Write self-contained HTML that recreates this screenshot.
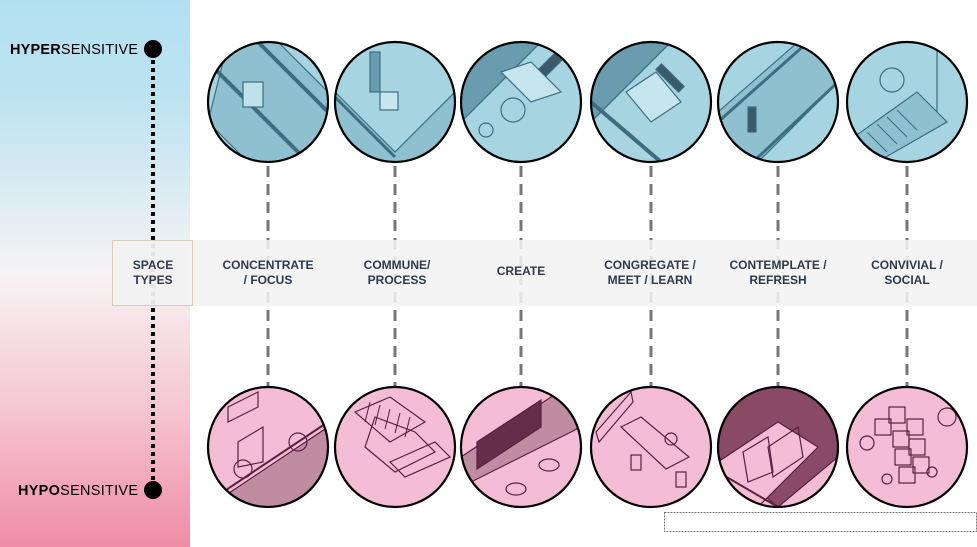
<!DOCTYPE html>
<html><head><meta charset="utf-8"><style>
html,body{margin:0;padding:0;background:#fff}
body{width:977px;height:547px;overflow:hidden;position:relative;font-family:"Liberation Sans",Arial,sans-serif}
</style></head><body>
<svg width="977" height="547" viewBox="0 0 977 547" xmlns="http://www.w3.org/2000/svg" style="position:absolute;left:0;top:0">
<defs>
<linearGradient id="lg" x1="0" y1="0" x2="0" y2="1">
<stop offset="0" stop-color="#b3e0f1"/>
<stop offset="0.18" stop-color="#bde3f1"/>
<stop offset="0.5" stop-color="#f6f3f4"/>
<stop offset="0.75" stop-color="#f5c5d2"/>
<stop offset="1" stop-color="#ef8ca6"/>
</linearGradient>
<clipPath id="c1"><circle cx="0" cy="0" r="60"/></clipPath>
</defs>
<rect x="0" y="0" width="190" height="547" fill="url(#lg)"/>
<line x1="153" y1="52" x2="153" y2="488" stroke="#000" stroke-width="4" stroke-dasharray="4,4"/>
<circle cx="153" cy="49" r="9" fill="#000"/>
<circle cx="153" cy="490" r="9" fill="#000"/>
<text x="10" y="54" font-size="14.5" fill="#000" textLength="128" lengthAdjust="spacing"><tspan font-weight="bold">HYPER</tspan>SENSITIVE</text>
<text x="18" y="495" font-size="14.5" fill="#000" textLength="120" lengthAdjust="spacing"><tspan font-weight="bold">HYPO</tspan>SENSITIVE</text>
<g stroke="#777" stroke-width="3" stroke-dasharray="11,7">
<line x1="268" y1="166" x2="268" y2="386"/>
<line x1="395" y1="166" x2="395" y2="386"/>
<line x1="521" y1="166" x2="521" y2="386"/>
<line x1="651" y1="166" x2="651" y2="386"/>
<line x1="778" y1="166" x2="778" y2="386"/>
<line x1="907" y1="166" x2="907" y2="386"/>
</g>
<rect x="112" y="240" width="865" height="66" fill="#f2f2f2" fill-opacity="0.88"/>
<rect x="112.5" y="240.5" width="80" height="65" fill="#f2f2f2" fill-opacity="0.5" stroke="#d8cfb0" stroke-width="1"/>
<g font-size="12" font-weight="bold" fill="#2e3a4a" text-anchor="middle">
<text x="153" y="269">SPACE</text><text x="153" y="284">TYPES</text>
<text x="268" y="269">CONCENTRATE</text><text x="268" y="284">/ FOCUS</text>
<text x="397" y="269">COMMUNE/</text><text x="397" y="284">PROCESS</text>
<text x="521" y="275">CREATE</text>
<text x="650" y="269">CONGREGATE /</text><text x="650" y="284">MEET / LEARN</text>
<text x="778" y="269">CONTEMPLATE /</text><text x="778" y="284">REFRESH</text>
<text x="907" y="269">CONVIVIAL /</text><text x="907" y="284">SOCIAL</text>
</g>
<g stroke="#3c6e80" stroke-width="1.2" fill="none">
<g transform="translate(268,102)"><circle r="60" fill="#a6d4e1" stroke="none"/><g clip-path="url(#c1)">
<polygon points="-40,-60 10,-60 60,-10 60,60 -20,60 -60,20" fill="#8fc0d0"/><line x1="-60" y1="-40" x2="40" y2="60" stroke-width="4"/><line x1="-10" y1="-60" x2="60" y2="10" stroke-width="4"/><rect x="-25" y="-20" width="20" height="25" fill="#bfe1ea"/></g></g>
<g transform="translate(395,102)"><circle r="60" fill="#a6d4e1" stroke="none"/><g clip-path="url(#c1)">
<polygon points="-60,-10 0,50 60,-10 60,60 -60,60" fill="#8fc0d0"/><line x1="-60" y1="-5" x2="0" y2="55" stroke-width="3"/><rect x="-25" y="-50" width="10" height="40" fill="#6a9cb0"/><rect x="-15" y="-10" width="18" height="18" fill="#c6e5ee"/></g></g>
<g transform="translate(521,102)"><circle r="60" fill="#a6d4e1" stroke="none"/><g clip-path="url(#c1)">
<polygon points="-60,-60 20,-60 -60,20" fill="#6a9cb0"/><rect x="22" y="-50" width="10" height="30" fill="#3a5a6a" transform="rotate(45 27 -35)"/><circle cx="-8" cy="8" r="12"/><polygon points="-20,-30 10,-40 40,-10 10,0" fill="#c6e5ee"/><circle cx="-35" cy="28" r="7"/></g></g>
<g transform="translate(651,102)"><circle r="60" fill="#a6d4e1" stroke="none"/><g clip-path="url(#c1)">
<polygon points="-60,-60 20,-60 -60,20" fill="#6a9cb0"/><rect x="15" y="-40" width="8" height="32" fill="#3a5a6a" transform="rotate(-45 19 -24)"/><polygon points="-25,-10 5,-30 30,0 0,20" fill="#c6e5ee"/><line x1="-60" y1="0" x2="10" y2="60" stroke-width="4"/></g></g>
<g transform="translate(778,102)"><circle r="60" fill="#a6d4e1" stroke="none"/><g clip-path="url(#c1)">
<polygon points="-60,10 20,-60 60,-60 60,-20 -20,60 -60,60" fill="#8fc0d0"/><line x1="-60" y1="20" x2="30" y2="-60" stroke-width="3"/><line x1="-25" y1="60" x2="60" y2="-20" stroke-width="3"/><rect x="-30" y="5" width="8" height="25" fill="#3a5a6a"/></g></g>
<g transform="translate(907,102)"><circle r="60" fill="#a6d4e1" stroke="none"/><g clip-path="url(#c1)">
<circle cx="-15" cy="-22" r="12"/><polygon points="-60,40 10,-10 40,20 -30,60" fill="#8fc0d0"/><g stroke-width="1"><line x1="-40" y1="30" x2="-20" y2="50"/><line x1="-30" y1="22" x2="-10" y2="42"/><line x1="-20" y1="15" x2="0" y2="35"/><line x1="-10" y1="8" x2="10" y2="28"/></g><line x1="30" y1="-60" x2="30" y2="10"/></g></g>
</g>
<g stroke="#000" stroke-width="2.2" fill="none">
<circle cx="268" cy="102" r="60"/><circle cx="395" cy="102" r="60"/><circle cx="521" cy="102" r="60"/><circle cx="651" cy="102" r="60"/><circle cx="778" cy="102" r="60"/><circle cx="907" cy="102" r="60"/>
</g>
<g stroke="#5a2040" stroke-width="1.2" fill="none">
<g transform="translate(268,447)"><circle r="60" fill="#f5bdd5" stroke="none"/><g clip-path="url(#c1)">
<polygon points="-60,60 60,-20 60,60" fill="#c08ca2"/><line x1="-60" y1="55" x2="60" y2="-25" stroke-width="2"/><polygon points="-40,-40 -10,-55 -10,-40 -40,-25"/><polygon points="-30,-5 -5,-20 -5,15 -30,20"/><circle cx="-25" cy="22" r="9"/><circle cx="30" cy="-5" r="9"/></g></g>
<g transform="translate(395,447)"><circle r="60" fill="#f5bdd5" stroke="none"/><g clip-path="url(#c1)">
<polygon points="-20,-30 20,-15 40,5 0,25 -30,0"/><polygon points="-40,-35 -5,-50 30,-25 -5,-5"/><polygon points="-5,15 40,-5 55,10 10,30"/><line x1="-60" y1="40" x2="-20" y2="60" stroke-width="2"/><g stroke-width="1"><line x1="-30" y1="-25" x2="-25" y2="-45"/><line x1="-20" y1="-22" x2="-15" y2="-42"/><line x1="-10" y1="-18" x2="-5" y2="-38"/><line x1="0" y1="-14" x2="5" y2="-34"/><line x1="10" y1="-10" x2="15" y2="-30"/></g></g></g>
<g transform="translate(521,447)"><circle r="60" fill="#f5bdd5" stroke="none"/><g clip-path="url(#c1)">
<polygon points="-60,10 60,-70 60,-20 -60,40" fill="#c08ca2"/><polygon points="-44,-5 20,-47 20,-20 -44,22" fill="#662c48"/><ellipse cx="-5" cy="42" rx="10" ry="6"/><ellipse cx="28" cy="18" rx="10" ry="6"/></g></g>
<g transform="translate(651,447)"><circle r="60" fill="#f5bdd5" stroke="none"/><g clip-path="url(#c1)">
<polygon points="-30,-20 -10,-30 38,10 15,22"/><polygon points="-55,-15 -20,-55 -18,-45 -52,-5"/><rect x="-20" y="8" width="10" height="15"/><rect x="25" y="25" width="10" height="15"/><circle cx="20" cy="-8" r="6"/></g></g>
<g transform="translate(778,447)"><circle r="60" fill="#f5bdd5" stroke="none"/><g clip-path="url(#c1)">
<polygon points="-60,-60 60,-60 60,10 0,60 -60,10" fill="#8a4a66"/><polygon points="-60,15 0,-25 40,0 -20,60 -60,60" fill="#f5bdd5"/><polygon points="-35,5 -10,-10 -5,25 -30,35"/><polygon points="-10,0 20,-20 25,10 -5,30"/><line x1="-60" y1="25" x2="0" y2="60" stroke-width="2"/></g></g>
<g transform="translate(907,447)"><circle r="60" fill="#f5bdd5" stroke="none"/><g clip-path="url(#c1)">
<g><rect x="-32" y="-28" width="16" height="16"/><rect x="-18" y="-40" width="16" height="16"/><rect x="-14" y="-16" width="16" height="16"/><rect x="0" y="-28" width="16" height="16"/><rect x="-12" y="2" width="16" height="16"/><rect x="2" y="-8" width="16" height="16"/><rect x="-8" y="20" width="16" height="16"/><rect x="6" y="10" width="16" height="16"/></g><circle cx="-40" cy="-4" r="7"/><circle cx="40" cy="-30" r="9"/><circle cx="-20" cy="32" r="5"/><circle cx="25" cy="25" r="5"/></g></g>
</g>
<g stroke="#000" stroke-width="2.2" fill="none">
<circle cx="268" cy="447" r="60"/><circle cx="395" cy="447" r="60"/><circle cx="521" cy="447" r="60"/><circle cx="651" cy="447" r="60"/><circle cx="778" cy="447" r="60"/><circle cx="907" cy="447" r="60"/>
</g>
<rect x="664.5" y="512.5" width="312" height="19" fill="none" stroke="#777" stroke-width="1" stroke-dasharray="2,1"/>
</svg>
</body></html>
